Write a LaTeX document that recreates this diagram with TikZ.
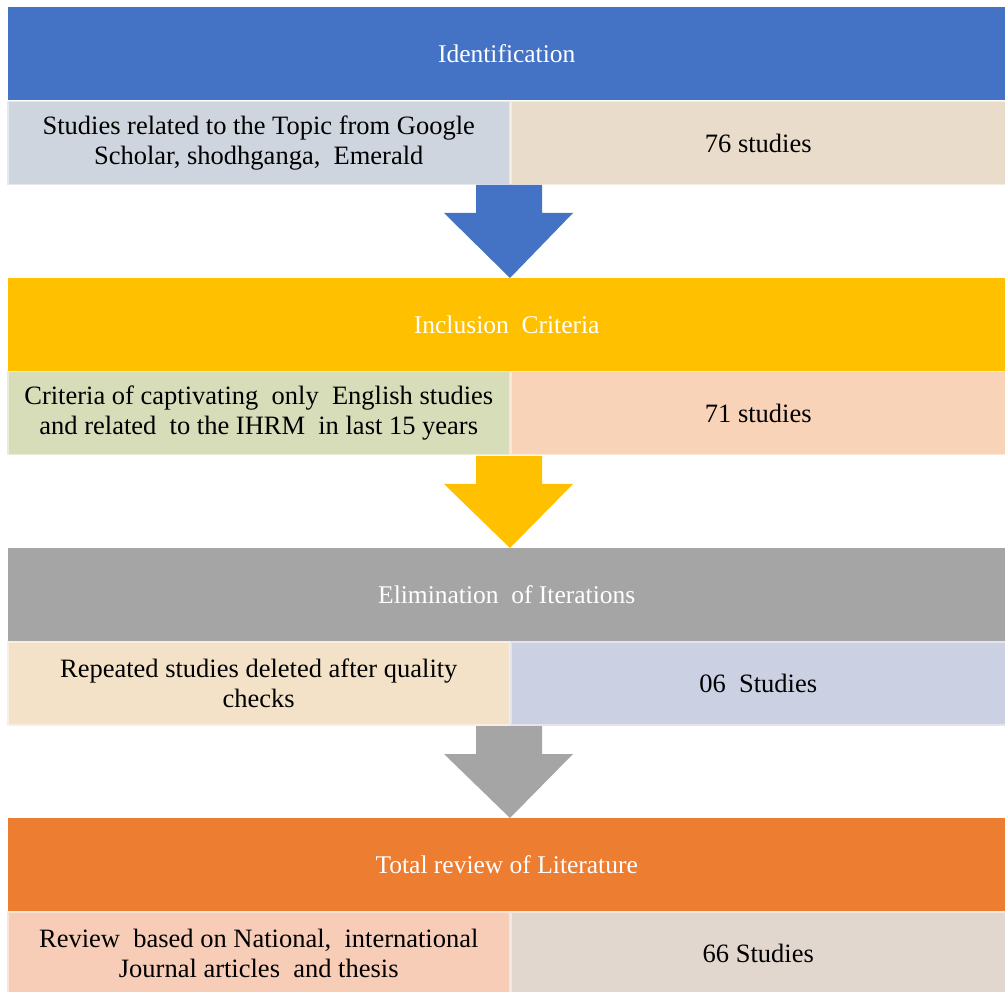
\documentclass[tikz,border=0pt]{standalone}
\usepackage{fontspec}
\setmainfont{Liberation Serif}
\usetikzlibrary{positioning}
\begin{document}
\begin{tikzpicture}[x=1pt,y=-1pt,
  hdr/.style={fill=#1, draw=none, minimum width=997pt, minimum height=93pt,
    anchor=north west, inner sep=0pt, text=white, font=\fontsize{25.5}{30}\selectfont},
  cellbox/.style={fill=#1, draw=#1!55!white, line width=1.5pt, minimum width=502pt,
    minimum height=83pt, anchor=north west, inner sep=0pt, align=center,
    font=\fontsize{26.5}{29.5}\selectfont},
  rcell/.style={fill=#1, draw=#1!55!white, line width=1.5pt, minimum width=495pt,
    minimum height=83pt, anchor=north west, inner sep=0pt, align=center,
    font=\fontsize{26.5}{29.5}\selectfont}]
\definecolor{hblue}{HTML}{4472C4}
\definecolor{hgold}{HTML}{FFC000}
\definecolor{hgray}{HTML}{A5A5A5}
\definecolor{horange}{HTML}{ED7D31}
\definecolor{cA}{HTML}{CFD5DF}
\definecolor{cB}{HTML}{EADCCB}
\definecolor{cC}{HTML}{D7DCB9}
\definecolor{cD}{HTML}{F8D3B8}
\definecolor{cE}{HTML}{F4E2C8}
\definecolor{cF}{HTML}{CBD0E3}
\definecolor{cG}{HTML}{F7CDB8}
\definecolor{cH}{HTML}{E2D7CF}
\useasboundingbox (0,0) rectangle (1005,992);

% Stage 1: identification
\node[hdr=hblue] (h1) at (8,7) {Identification};
\node[cellbox=cA] (l1) at (7,101) {Studies related to the Topic from Google\\Scholar, shodhganga,\ \ Emerald};
\node[rcell=cB] (r1) at (510,101) {76 studies};

% Stage 2: inclusion
\node[hdr=hgold] (h2) at (8,278) {Inclusion\ \ Criteria};
\node[cellbox=cC] (l2) at (7,371) {Criteria of captivating\ \ only\ \ English studies\\and related\ \ to the IHRM\ \ in last 15 years};
\node[rcell=cD] (r2) at (510,371) {71 studies};

% Stage 3: elimination
\node[hdr=hgray] (h3) at (8,548) {Elimination\ \ of Iterations};
\node[cellbox=cE] (l3) at (7,641) {Repeated studies deleted after quality\\checks};
\node[rcell=cF] (r3) at (510,641) {06\ \ Studies};

% Stage 4: total review
\node[hdr=horange] (h4) at (8,818) {Total review of Literature};
\node[cellbox=cG] (l4) at (7,911) {Review\ \ based on National,\ \ international\\Journal articles\ \ and thesis};
\node[rcell=cH] (r4) at (510,911) {66 Studies};

% Block arrows between stages
\foreach \top/\bot/\col in {185/278/hblue, 456/548/hgold, 726/818/hgray}{
  \fill[\col] (476,\top) -- (542,\top) -- (542,\top+28) -- (573,\top+28)
    -- (510,\bot) -- (444,\top+28) -- (476,\top+28) -- cycle;
}
\end{tikzpicture}
\end{document}
